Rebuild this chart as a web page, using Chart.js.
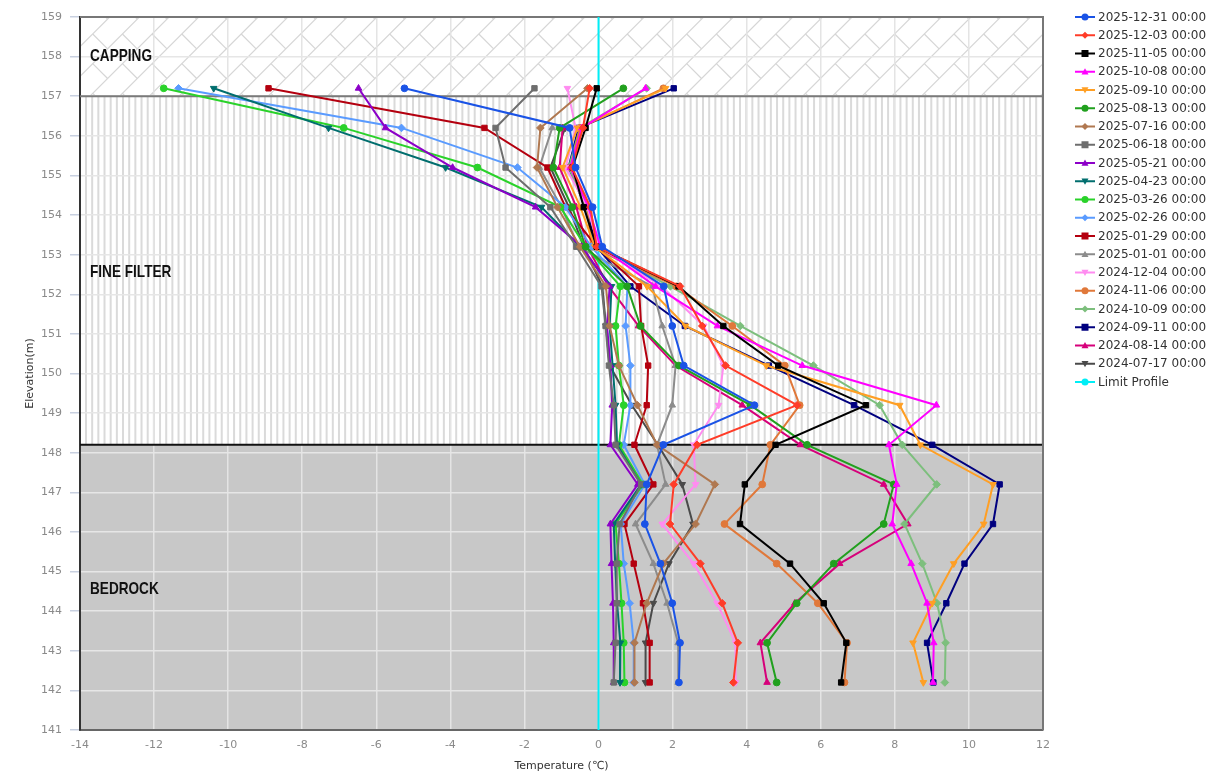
<!DOCTYPE html>
<html>
<head>
<meta charset="utf-8">
<script src="https://cdn.jsdelivr.net/npm/chart.js@4.4.1/dist/chart.umd.min.js"></script>
<style>
  html, body { margin: 0; padding: 0; background: #fff; }
  canvas { display: block; }
</style>
</head>
<body>
<canvas id="profile" width="1212" height="774"></canvas>
<script>
// elevations of the thermistor beads (m)
const elevations = [157.2, 156.2, 155.2, 154.2, 153.2, 152.2, 151.2, 150.2, 149.2, 148.2, 147.2, 146.2, 145.2, 144.2, 143.2, 142.2];

const seriesNames = [
  "2025-12-31 00:00", "2025-12-03 00:00", "2025-11-05 00:00", "2025-10-08 00:00",
  "2025-09-10 00:00", "2025-08-13 00:00", "2025-07-16 00:00", "2025-06-18 00:00",
  "2025-05-21 00:00", "2025-04-23 00:00", "2025-03-26 00:00", "2025-02-26 00:00",
  "2025-01-29 00:00", "2025-01-01 00:00", "2024-12-04 00:00", "2024-11-06 00:00",
  "2024-10-09 00:00", "2024-09-11 00:00", "2024-08-14 00:00", "2024-07-17 00:00"
];

// temperatures (°C), top bead first
const t20251231 = [-5.24, -0.78, -0.62, -0.16, 0.1, 1.76, 1.99, 2.30, 4.21, 1.75, 1.30, 1.25, 1.67, 1.99, 2.20, 2.17];
const t20251203 = [-0.24, -0.42, -0.72, -0.22, -0.05, 2.2, 2.8, 3.43, 5.36, 2.66, 2.03, 1.93, 2.75, 3.34, 3.76, 3.64];
const t20251105 = [-0.05, -0.35, -0.70, -0.40, -0.05, 2.16, 3.37, 4.85, 7.22, 4.78, 3.95, 3.82, 5.17, 6.08, 6.69, 6.55];
const t20251008 = [1.27, -0.45, -0.76, -0.27, 0.05, 1.54, 3.21, 5.5, 9.12, 7.84, 8.05, 7.93, 8.44, 8.87, 9.05, 9.03];
const t20250910 = [1.81, -0.57, -0.97, -0.49, -0.1, 1.31, 2.35, 4.53, 8.13, 8.69, 10.65, 10.40, 9.59, 9.01, 8.49, 8.77];
const t20250813 = [0.67, -1.05, -1.22, -0.71, -0.35, 0.77, 1.13, 2.17, 4.10, 5.63, 7.97, 7.70, 6.35, 5.35, 4.55, 4.81];
const t20250716 = [-0.3, -1.57, -1.66, -1.11, -0.5, 0.2, 0.3, 0.55, 1.05, 1.58, 3.14, 2.62, 1.75, 1.30, 0.97, 0.97];
const t20250618 = [-1.73, -2.78, -2.51, -1.30, -0.6, 0.08, 0.19, 0.28, 0.41, 0.46, 1.15, 0.57, 0.49, 0.49, 0.46, 0.41];
const t20250521 = [-6.48, -5.75, -3.94, -1.70, -0.45, 0.3, 0.23, 0.32, 0.37, 0.32, 1.06, 0.32, 0.35, 0.39, 0.41, 0.41];
const t20250423 = [-10.39, -7.29, -4.13, -1.54, -0.5, 0.35, 0.3, 0.38, 0.46, 0.5, 1.15, 0.41, 0.45, 0.5, 0.59, 0.58];
const t20250326 = [-11.74, -6.88, -3.27, -1.03, -0.35, 0.59, 0.46, 0.55, 0.68, 0.55, 1.2, 0.46, 0.55, 0.62, 0.68, 0.70];
const t20250226 = [-11.34, -5.32, -2.19, -0.89, -0.2, 0.78, 0.73, 0.86, 0.86, 0.68, 1.25, 0.6, 0.68, 0.84, 0.95, 0.95];
const t20250129 = [-8.91, -3.08, -1.38, -0.89, -0.05, 1.09, 1.15, 1.34, 1.30, 0.97, 1.48, 0.70, 0.95, 1.20, 1.38, 1.38];
const t20250101 = [null, -1.25, -1.6, -1.0, -0.55, 1.45, 1.72, 2.08, 1.99, 1.58, 1.81, 1.0, 1.48, 1.85, 2.15, 2.15];
const t20241204 = [-0.84, -0.62, -0.89, -0.3, 0.0, 1.7, 2.84, 3.37, 3.24, 2.57, 2.62, 1.72, 2.57, 3.20, 3.70, 3.70];
const t20241106 = [1.75, -0.5, -0.75, -0.3, -0.2, 2.1, 3.61, 5.03, 5.43, 4.64, 4.42, 3.40, 4.81, 5.92, 6.71, 6.64];
const t20241009 = [1.3, -0.5, -0.8, -0.35, -0.15, 1.94, 3.83, 5.8, 7.59, 8.2, 9.13, 8.26, 8.74, 9.14, 9.37, 9.35];
const t20240911 = [2.03, -0.54, -0.81, -0.35, -0.05, 0.86, 2.33, 4.6, 6.9, 9.01, 10.83, 10.65, 9.88, 9.39, 8.87, 9.04];
const t20240814 = [null, -0.97, -1.05, -0.6, -0.3, 0.27, 1.08, 2.08, 3.88, 5.45, 7.70, 8.35, 6.51, 5.3, 4.37, 4.55];
const t20240717 = [null, -0.9, -1.3, -0.8, -0.4, 0.1, 0.2, 0.3, 0.9, 1.6, 2.26, 2.55, 1.9, 1.48, 1.27, 1.27];

const seriesTemps = [t20251231, t20251203, t20251105, t20251008, t20250910, t20250813, t20250716, t20250618,
  t20250521, t20250423, t20250326, t20250226, t20250129, t20250101, t20241204, t20241106,
  t20241009, t20240911, t20240814, t20240717];

const limitTemps = [0, 0];
const limitElevations = [141, 159];

// layer boundaries (m)
const cappingBase = 157;
const bedrockTop = 148.2;

const xTicks = [-14, 12, 2];   // min, max, step
const yTicks = [141, 159, 1];

const colors = ["#1a53e6", "#ff3c28", "#000000", "#ff00ff", "#ff9f24", "#21a01e", "#b07850", "#6e6e6e",
  "#8c00c8", "#006e6e", "#2ad22a", "#5a9bff", "#b4000f", "#8c8c8c", "#ff8cf0", "#e0783a",
  "#7dbf7d", "#00007f", "#d6007a", "#4a4a4a"];
const markers = ["circle", "rectRot", "rect", "triangle", "triDown", "circle", "rectRot", "rect",
  "triangle", "triDown", "circle", "rectRot", "rect", "triangle", "triDown", "circle",
  "rectRot", "rect", "triangle", "triDown"];

Chart.defaults.font.family = "'DejaVu Sans', sans-serif";

const datasets = seriesNames.map((name, i) => ({
  label: name,
  data: elevations.map((el, k) => ({ x: seriesTemps[i][k], y: el })).filter(p => p.x !== null),
  borderColor: colors[i],
  backgroundColor: colors[i],
  pointBackgroundColor: colors[i],
  pointBorderColor: colors[i],
  pointStyle: markers[i] === "triDown" ? "triangle" : markers[i],
  pointRotation: markers[i] === "triDown" ? 180 : 0,
  pointRadius: markers[i] === "circle" ? 3.4 : 3.8,
  pointBorderWidth: 1,
  borderWidth: 2,
  showLine: true,
  tension: 0
}));
datasets.push({
  label: "Limit Profile",
  data: limitTemps.map((t, k) => ({ x: t, y: limitElevations[k] })),
  borderColor: "#00eef6",
  backgroundColor: "#00eef6",
  pointRadius: 0,
  borderWidth: 2,
  showLine: true
});
const legendMarkers = markers.concat(["circle"]);

function drawMarker(ctx, style, x, y, r, color) {
  ctx.save();
  ctx.fillStyle = color;
  ctx.beginPath();
  if (style === "circle") {
    ctx.arc(x, y, r, 0, Math.PI * 2);
  } else if (style === "rect") {
    ctx.rect(x - r, y - r, r * 2, r * 2);
  } else if (style === "rectRot") {
    ctx.moveTo(x, y - r); ctx.lineTo(x + r, y); ctx.lineTo(x, y + r); ctx.lineTo(x - r, y);
  } else if (style === "triangle") {
    ctx.moveTo(x, y - r); ctx.lineTo(x + r, y + r * 0.8); ctx.lineTo(x - r, y + r * 0.8);
  } else {
    ctx.moveTo(x, y + r); ctx.lineTo(x + r, y - r * 0.8); ctx.lineTo(x - r, y - r * 0.8);
  }
  ctx.closePath();
  ctx.fill();
  ctx.restore();
}

const layerPlugin = {
  id: "layers",
  beforeDraw(chart) {
    const { ctx, chartArea: a, scales: { y } } = chart;
    const yCap = y.getPixelForValue(cappingBase);
    const yBed = y.getPixelForValue(bedrockTop);
    ctx.save();
    // bedrock
    ctx.fillStyle = "#c8c8c8";
    ctx.fillRect(a.left, yBed, a.right - a.left, a.bottom - yBed);
    // fine filter stripes
    ctx.strokeStyle = "#dadada";
    ctx.lineWidth = 2;
    for (let px = a.left + 6; px < a.right; px += 6.17) {
      ctx.beginPath();
      ctx.moveTo(px, yCap);
      ctx.lineTo(px, yBed);
      ctx.stroke();
    }
    // capping hatch (diagonal bricks)
    ctx.beginPath();
    ctx.rect(a.left, a.top, a.right - a.left, yCap - a.top);
    ctx.clip();
    ctx.translate(a.left, a.top);
    ctx.rotate(-Math.PI / 4);
    ctx.strokeStyle = "#d6d6d6";
    ctx.lineWidth = 1.2;
    const h = 21, w = 42;
    for (let row = -60; row < 60; row++) {
      const v = row * h;
      ctx.beginPath();
      ctx.moveTo(-1200, v);
      ctx.lineTo(1200, v);
      ctx.stroke();
      const off = (row % 2 === 0) ? 0 : w / 2;
      for (let u = -1200 + off; u < 1200; u += w) {
        ctx.beginPath();
        ctx.moveTo(u, v);
        ctx.lineTo(u, v + h);
        ctx.stroke();
      }
    }
    ctx.restore();
  },
  beforeDatasetsDraw(chart) {
    const { ctx, chartArea: a, scales: { y } } = chart;
    const yCap = y.getPixelForValue(cappingBase);
    const yBed = y.getPixelForValue(bedrockTop);
    ctx.save();
    ctx.lineWidth = 2;
    ctx.strokeStyle = "#7a7a7a";
    ctx.beginPath(); ctx.moveTo(a.left, yCap); ctx.lineTo(a.right, yCap); ctx.stroke();
    ctx.strokeStyle = "#111";
    ctx.beginPath(); ctx.moveTo(a.left, yBed); ctx.lineTo(a.right, yBed); ctx.stroke();
    // frame top/right
    ctx.strokeStyle = "#777";
    ctx.beginPath(); ctx.moveTo(a.left, a.top); ctx.lineTo(a.right, a.top); ctx.lineTo(a.right, a.bottom); ctx.stroke();
    // layer names
    ctx.fillStyle = "#111";
    ctx.font = "bold 17px 'Liberation Sans', sans-serif";
    ctx.textBaseline = "middle";
    const labels = [["CAPPING", y.getPixelForValue(158)], ["FINE FILTER", y.getPixelForValue(152.55)], ["BEDROCK", y.getPixelForValue(144.55)]];
    labels.forEach(([txt, py]) => {
      ctx.save();
      ctx.translate(a.left + 10, py);
      ctx.scale(0.8, 1);
      ctx.fillText(txt, 0, 0);
      ctx.restore();
    });
    ctx.restore();
  },
  afterDraw(chart) {
    const { ctx } = chart;
    ctx.save();
    ctx.font = "12px 'DejaVu Sans', sans-serif";
    ctx.textBaseline = "middle";
    chart.data.datasets.forEach((ds, i) => {
      const yy = 17 + i * 18.25;
      ctx.strokeStyle = ds.borderColor;
      ctx.lineWidth = 2;
      ctx.beginPath(); ctx.moveTo(1075, yy); ctx.lineTo(1095, yy); ctx.stroke();
      drawMarker(ctx, legendMarkers[i], 1085, yy, 3.5, ds.borderColor);
      ctx.fillStyle = "#333";
      ctx.fillText(ds.label, 1098, yy + 0.5);
    });
    ctx.restore();
  }
};

new Chart(document.getElementById("profile").getContext("2d"), {
  type: "scatter",
  data: { datasets: datasets },
  plugins: [layerPlugin],
  options: {
    responsive: false,
    animation: false,
    layout: { padding: { top: 17, right: 169, left: 0, bottom: 0 } },
    plugins: { legend: { display: false }, tooltip: { enabled: false } },
    scales: {
      x: {
        type: "linear", min: xTicks[0], max: xTicks[1],
        ticks: { stepSize: xTicks[2], color: "#8a8a8a", font: { size: 11 }, padding: 9 },
        grid: { color: "#e4e4e4", lineWidth: 1.5, drawTicks: false },
        border: { color: "#666", width: 2 },
        title: { display: true, text: "Temperature (℃)", color: "#333", font: { size: 11 }, padding: { top: 0, bottom: 1 } },
        afterFit(s) { s.height = 44; }
      },
      y: {
        type: "linear", min: yTicks[0], max: yTicks[1],
        ticks: { stepSize: yTicks[2], color: "#8a8a8a", font: { size: 11 }, padding: 8 },
        grid: { color: "#e6e6e6", lineWidth: 1.5, tickLength: 10, tickColor: "#c8d0e0" },
        border: { color: "#333", width: 2 },
        title: { display: true, text: "Elevation(m)", color: "#333", font: { size: 11 }, padding: { top: 24, bottom: 0 } },
        afterFit(s) { s.width = 80; }
      }
    }
  }
});
</script>
</body>
</html>
